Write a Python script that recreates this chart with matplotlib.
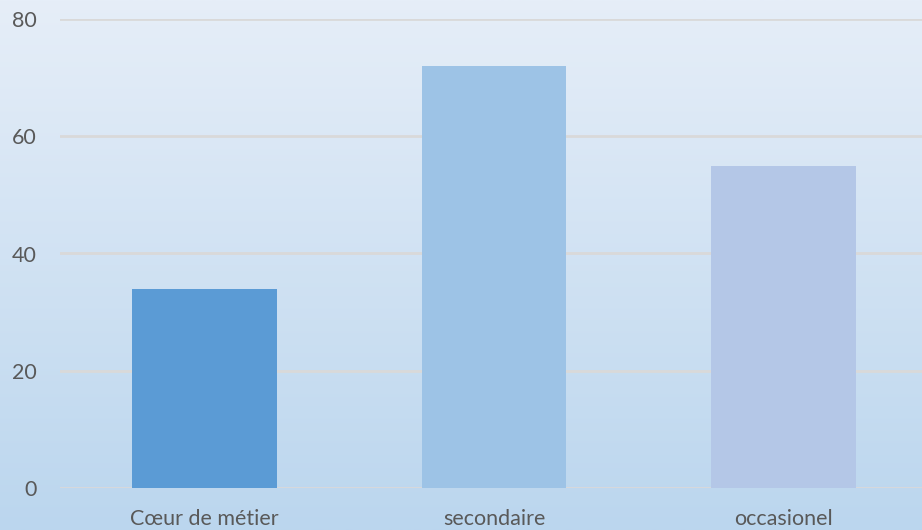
import matplotlib.pyplot as plt
import numpy as np

categories = ["Cœur de métier", "secondaire", "occasionel"]
values = [34, 72, 55]
colors = ["#5b9bd5", "#9dc3e6", "#b4c7e7"]
yticks = [0, 20, 40, 60, 80]

plt.rcParams['font.family'] = ['Lato', 'DejaVu Sans']

fig = plt.figure(figsize=(9.22, 5.30), dpi=100)

# fond en dégradé
bg = fig.add_axes([0, 0, 1, 1], zorder=0)
top = np.array([0xe6, 0xee, 0xf8]) / 255
bot = np.array([0xbb, 0xd6, 0xee]) / 255
t = np.linspace(0, 1, 256)[:, None, None]
grad = top * (1 - t) + bot * t
bg.imshow(grad, aspect='auto', extent=[0, 1, 0, 1])
bg.axis('off')

ax = fig.add_axes([60 / 922, 1 - 488 / 530, 868 / 922, 469 / 530], zorder=1)
ax.patch.set_alpha(0)
x = np.arange(len(categories))
ax.bar(x, values, width=0.5, color=colors, zorder=2)

ax.set_xlim(-0.5, 2.5)
ax.set_ylim(0, 80)
ax.set_yticks(yticks)
ax.set_xticks(x)
ax.set_xticklabels(categories)
ax.grid(axis='y', color='#d9d9d9', linewidth=2, zorder=1)
ax.set_axisbelow(True)
for s in ax.spines.values():
    s.set_visible(False)
ax.tick_params(length=0, labelsize=15.5, colors='#595959')
ax.tick_params(axis='y', pad=17)
ax.tick_params(axis='x', pad=15)

fig.savefig("out.png", dpi=100)
